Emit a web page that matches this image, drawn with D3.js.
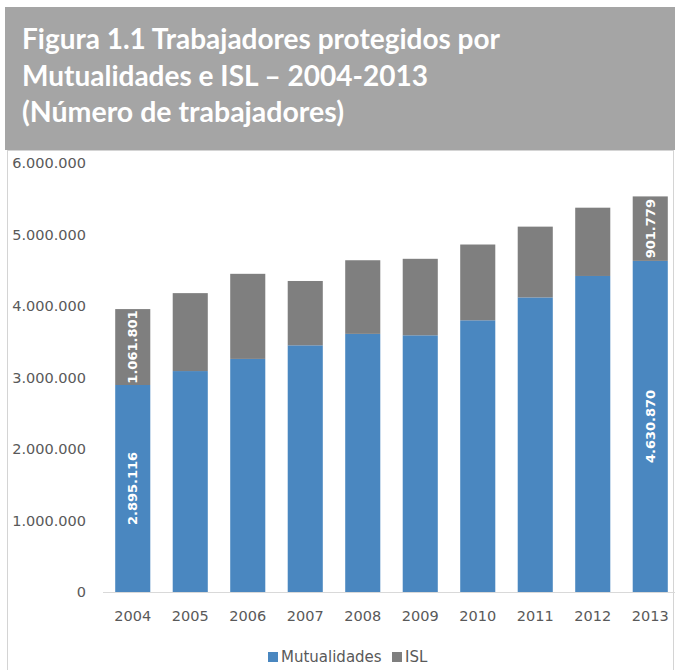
<!DOCTYPE html>
<html>
<head>
<meta charset="utf-8">
<script src="https://cdn.jsdelivr.net/npm/d3@7"></script>
<style>
  html, body { margin: 0; padding: 0; background: #fff; }
  svg { display: block; }
</style>
</head>
<body>
<svg id="chart" width="675" height="670"></svg>
<script>
'use strict';

// data
var years = ['2004', '2005', '2006', '2007', '2008', '2009', '2010', '2011', '2012', '2013'];
var mutualidades = [2895116, 3090000, 3260000, 3450000, 3610000, 3590000, 3800000, 4120000, 4420000, 4630870];
var isl = [1061801, 1090000, 1190000, 900000, 1030000, 1070000, 1060000, 990000, 955000, 901779];
var yTicks = [0, 1000000, 2000000, 3000000, 4000000, 5000000, 6000000];
var labelledYears = ['2004', '2013'];
var seriesNames = ['Mutualidades', 'ISL'];
var titleLines = ['Figura 1.1 Trabajadores protegidos por', 'Mutualidades e ISL \u2013 2004-2013', '(N\u00famero de trabajadores)'];

var colors = { Mutualidades: '#4a87c0', ISL: '#7f7f7f' };

var svg = d3.select('#chart');

var locale = d3.formatLocale({ decimal: ',', thousands: '.', grouping: [3], currency: ['', ''] });
var fmt = locale.format(',d');

// frame + title banner
svg.append('rect')
  .attr('x', 7.5).attr('y', 150.5)
  .attr('width', 666).attr('height', 530)
  .attr('fill', 'none').attr('stroke', '#d4d4d4');

svg.append('rect')
  .attr('x', 5).attr('y', 7)
  .attr('width', 670).attr('height', 143)
  .attr('fill', '#a5a5a5');

var title = svg.append('g').attr('font-family', 'Lato, "Open Sans", sans-serif')
  .attr('font-weight', 'bold').attr('fill', '#fff').attr('font-size', 28);

// baselines and widths of the three lines as seen in the original (narrow font)
var titleY = [49, 86, 122];
var titleW = [478, 406, 322];
title.selectAll('text').data(titleLines).enter().append('text')
  .attr('x', 22)
  .attr('y', function(d, i) { return titleY[i]; })
  .attr('textLength', function(d, i) { return titleW[i]; })
  .attr('lengthAdjust', 'spacingAndGlyphs')
  .text(function(d) { return d; });

// scales
var x = d3.scaleBand().domain(years).range([104, 679]).paddingInner(0.39).paddingOuter(0.195);
var y = d3.scaleLinear().domain([0, 6000000]).range([592, 163]);

var rows = years.map(function(yr, i) {
  return { year: yr, Mutualidades: mutualidades[i], ISL: isl[i] };
});
var stacked = d3.stack().keys(seriesNames)(rows);

// y axis labels
var yAxis = svg.append('g')
  .attr('transform', 'translate(86,0)')
  .call(d3.axisLeft(y).tickValues(yTicks).tickFormat(fmt).tickSize(0).tickPadding(0));
yAxis.select('.domain').remove();
yAxis.selectAll('text')
  .attr('font-family', '"DejaVu Sans", sans-serif')
  .attr('font-size', 14.5)
  .attr('fill', '#595959');

// bars
var layers = svg.append('g').selectAll('g').data(stacked).enter().append('g')
  .attr('fill', function(d) { return colors[d.key]; });

layers.selectAll('rect').data(function(d) { return d; }).enter().append('rect')
  .attr('x', function(d) { return x(d.data.year); })
  .attr('width', x.bandwidth())
  .attr('y', function(d) { return y(d[1]); })
  .attr('height', function(d) { return y(d[0]) - y(d[1]); });

// x axis
var xAxis = svg.append('g')
  .attr('transform', 'translate(0,592)')
  .call(d3.axisBottom(x).tickSize(0).tickPadding(19));
xAxis.select('.domain').remove();
xAxis.selectAll('text')
  .attr('font-family', '"DejaVu Sans", sans-serif')
  .attr('font-size', 14.5)
  .attr('fill', '#595959');

svg.append('line')
  .attr('x1', 103).attr('x2', 675)
  .attr('y1', 592.5).attr('y2', 592.5)
  .attr('stroke', '#d9d9d9');

// data labels (first and last year only)
layers.selectAll('text.val').data(function(d) {
    return d.filter(function(p) { return labelledYears.indexOf(p.data.year) >= 0; });
  }).enter().append('text')
  .attr('class', 'val')
  .attr('transform', function(d) {
    var cx = x(d.data.year) + x.bandwidth() / 2;
    var cy = (y(d[0]) + y(d[1])) / 2;
    return 'translate(' + cx + ',' + cy + ') rotate(-90)';
  })
  .attr('text-anchor', 'middle')
  .attr('dy', '0.36em')
  .attr('font-family', '"DejaVu Sans", sans-serif')
  .attr('font-weight', 'bold')
  .attr('font-size', 13)
  .attr('fill', '#fff')
  .text(function(d) { return fmt(d[1] - d[0]); });

// legend
var legend = svg.append('g').attr('font-family', '"DejaVu Sans", sans-serif')
  .attr('font-size', 15).attr('fill', '#595959');
var legX = [268, 392];
seriesNames.forEach(function(name, i) {
  legend.append('rect')
    .attr('x', legX[i]).attr('y', 652)
    .attr('width', 10).attr('height', 10)
    .attr('fill', colors[name]);
  legend.append('text')
    .attr('x', legX[i] + 13).attr('y', 657)
    .attr('dy', '0.35em')
    .text(name);
});
</script>
</body>
</html>
